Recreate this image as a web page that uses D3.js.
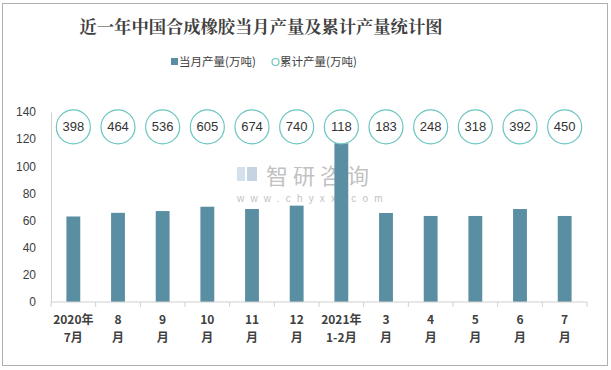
<!DOCTYPE html>
<html>
  <head>
    <meta charset="utf-8">
    <title>近一年中国合成橡胶当月产量及累计产量统计图</title>
    <script src="https://d3js.org/d3.v7.min.js"></script>
    <style>
      body { margin: 0; background: #fff; }
      .axis .domain, .axis .tick line { stroke: #d0d0d0; }
      .axis--y .tick line { display: none; }
      .axis--y .tick text { font-size: 12px; fill: #404040; font-family: "Liberation Sans", Arial, sans-serif; }
      .axis--x .tick text { font-size: 12px; font-weight: bold; fill: #404040; font-family: "Noto Sans CJK SC", sans-serif; }
      .title { font-family: "Noto Serif CJK SC", "Noto Sans CJK SC", serif; font-weight: bold; font-size: 17.3px; fill: #404040; }
      .legend text { font-family: "Noto Sans CJK SC", sans-serif; font-size: 11.5px; fill: #404040; }
      .bubble text { font-family: "Liberation Sans", Arial, sans-serif; font-size: 13px; fill: #333; }
    </style>
  </head>
  <body>
    <svg width="611" height="370"></svg>
    <script>
      // data
      const categories = ["2020年7月", "8月", "9月", "10月", "11月", "12月", "2021年1-2月", "3月", "4月", "5月", "6月", "7月"];
      const labelLines = [["2020年", "7月"], ["8", "月"], ["9", "月"], ["10", "月"], ["11", "月"], ["12", "月"],
                          ["2021年", "1-2月"], ["3", "月"], ["4", "月"], ["5", "月"], ["6", "月"], ["7", "月"]];
      const monthly = [63, 65.7, 67, 70.2, 68.5, 71, 117, 65.6, 63.4, 63.4, 68.5, 63.4];
      const cumulative = [398, 464, 536, 605, 674, 740, 118, 183, 248, 318, 392, 450];
      const yTicks = [0, 20, 40, 60, 80, 100, 120, 140];
      const bubbleLevel = 129; // cumulative labels sit in a row near the top

      const svg = d3.select("svg");
      const width = +svg.attr("width");
      const margin = {top: 112, right: 24, bottom: 68, left: 51};
      const innerWidth = width - margin.left - margin.right;
      const innerHeight = 370 - margin.top - margin.bottom;

      svg.append("rect")
        .attr("x", 2.5).attr("y", 3.5).attr("width", 605).attr("height", 362)
        .attr("fill", "#fff").attr("stroke", "#b0b0b0");

      svg.append("text").attr("class", "title")
        .attr("x", 261).attr("y", 33).attr("text-anchor", "middle")
        .text("近一年中国合成橡胶当月产量及累计产量统计图");

      const legend = svg.append("g").attr("class", "legend");
      legend.append("rect").attr("x", 171).attr("y", 58).attr("width", 7).attr("height", 7).attr("fill", "#5a8ea2");
      legend.append("text").attr("x", 179).attr("y", 66).text("当月产量(万吨)");
      legend.append("circle").attr("cx", 275.5).attr("cy", 62).attr("r", 3.5).attr("fill", "#fff").attr("stroke", "#6cc5c0").attr("stroke-width", 1.2);
      legend.append("text").attr("x", 280).attr("y", 66).text("累计产量(万吨)");

      const g = svg.append("g").attr("transform", `translate(${margin.left},${margin.top})`);

      // watermark
      const wm = g.append("g").attr("opacity", 0.6);
      wm.append("rect").attr("x", 186).attr("y", 55).attr("width", 8).attr("height", 14).attr("fill", "#b8cde3");
      wm.append("rect").attr("x", 196).attr("y", 55).attr("width", 10).attr("height", 14).attr("fill", "#9fb6d2");
      wm.append("text").attr("x", 215).attr("y", 72)
        .attr("font-family", "Noto Sans CJK SC, sans-serif").attr("font-size", 22).attr("letter-spacing", 5)
        .attr("fill", "#999").text("智研咨询");
      wm.append("text").attr("x", 186).attr("y", 90)
        .attr("font-family", "Liberation Sans, sans-serif").attr("font-size", 10).attr("letter-spacing", 6.2)
        .attr("fill", "#999").text("www.chyxx.com");

      const x = d3.scaleBand().domain(categories).range([0, innerWidth]).paddingInner(0.69).paddingOuter(0.345);
      const y = d3.scaleLinear().domain([0, 140]).range([innerHeight, 0]);

      g.append("g").attr("class", "axis axis--y")
        .call(d3.axisLeft(y).tickValues(yTicks).tickSize(0).tickPadding(15));

      g.selectAll(".bar").data(monthly).join("rect")
        .attr("class", "bar")
        .attr("x", (d, i) => x(categories[i]))
        .attr("y", d => y(d))
        .attr("width", x.bandwidth())
        .attr("height", d => innerHeight - y(d))
        .attr("fill", "#5a8ea2");

      // x axis with ticks between categories
      const xg = g.append("g").attr("class", "axis axis--x").attr("transform", `translate(0,${innerHeight})`);
      xg.append("line").attr("x1", 0).attr("x2", innerWidth).attr("stroke", "#d0d0d0");
      const step = x.step();
      d3.range(categories.length + 1).forEach(i => {
        xg.append("line").attr("x1", i * step).attr("x2", i * step).attr("y1", 0).attr("y2", 5).attr("stroke", "#d0d0d0");
      });
      const ticks = xg.selectAll(".tick").data(categories).join("g")
        .attr("class", "tick")
        .attr("transform", d => `translate(${x(d) + x.bandwidth() / 2},0)`);
      ticks.append("text")
        .attr("text-anchor", "middle")
        .selectAll("tspan").data((d, i) => labelLines[i]).join("tspan")
          .attr("x", 0)
          .attr("y", (d, j) => 22 + j * 18)
          .text(d => d);

      const bubbles = g.selectAll(".bubble").data(cumulative).join("g")
        .attr("class", "bubble")
        .attr("transform", (d, i) => `translate(${x(categories[i]) + x.bandwidth() / 2},${y(bubbleLevel)})`);
      bubbles.append("circle").attr("r", 17).attr("fill", "#fff").attr("stroke", "#6cc5c0").attr("stroke-width", 1.2);
      bubbles.append("text").attr("text-anchor", "middle").attr("dy", "0.35em").text(d => d);
    </script>
  </body>
</html>
